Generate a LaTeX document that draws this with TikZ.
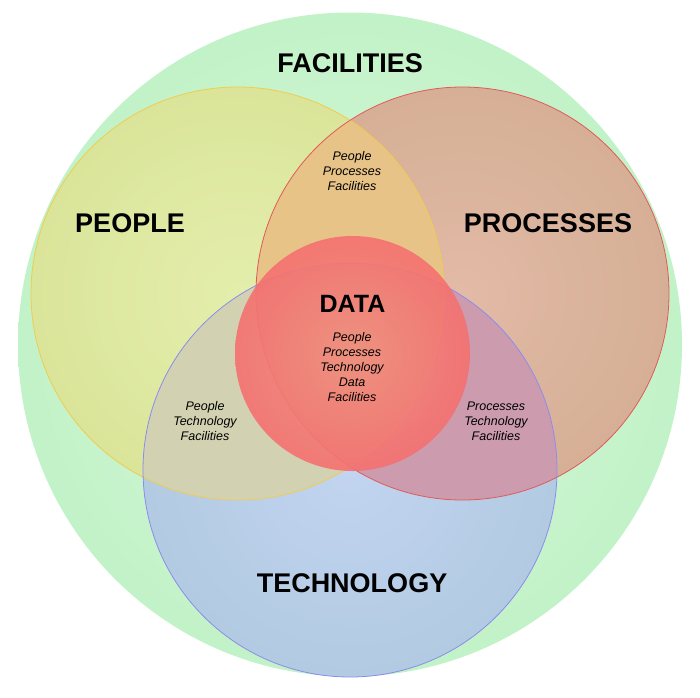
\documentclass[tikz,border=0pt]{standalone}
\usepackage{fontspec}
\setmainfont{Liberation Sans}
\definecolor{gIn}{HTML}{D8F9DC}
\definecolor{gOut}{HTML}{C2F2C7}
\definecolor{yIn}{HTML}{E4EEAC}
\definecolor{yOut}{HTML}{DAE59A}
\definecolor{rIn}{HTML}{E2BAA6}
\definecolor{rOut}{HTML}{D6AF96}
\definecolor{bIn}{HTML}{C2D4F0}
\definecolor{bOut}{HTML}{B2CAE2}
\definecolor{yrCol}{HTML}{E8C387}
\definecolor{ybCol}{HTML}{D2D2B2}
\definecolor{rbCol}{HTML}{CC9CAE}
\definecolor{yrbCol}{HTML}{D4A890}
\definecolor{yLine}{HTML}{F0CC50}
\definecolor{rLine}{HTML}{E05A5A}
\definecolor{bLine}{HTML}{8C8CEC}
\definecolor{dIn}{HTML}{F0907E}
\definecolor{dOut}{HTML}{F57070}
\tikzset{
  bigtitle/.style={font=\fontsize{27}{32}\selectfont\bfseries, text=black, inner sep=0pt},
  datatitle/.style={font=\fontsize{25}{30}\selectfont\bfseries, text=black, inner sep=0pt},
  smalllist/.style={font=\fontsize{12.5}{15}\selectfont\itshape, text=black, align=center, inner sep=0pt},
  ring/.style={line width=0.8pt}
}
\begin{document}
\begin{tikzpicture}[x=1pt,y=-1pt]
\useasboundingbox (0,0) rectangle (700,697);
\coordinate (G) at (350,344.5);
\coordinate (Y) at (237.5,293.5);
\coordinate (R) at (462.5,293.5);
\coordinate (B) at (350,470);
\coordinate (D) at (352.5,353.5);
% facilities
\shade[inner color=gIn, outer color=gOut] (G) circle[radius=332pt];
% single circles
\shade[inner color=yIn, outer color=yOut] (Y) circle[radius=206.5pt];
\shade[inner color=rIn, outer color=rOut] (R) circle[radius=206.5pt];
\shade[inner color=bIn, outer color=bOut] (B) circle[radius=207pt];
% pairwise overlaps
\begin{scope}
  \clip (Y) circle[radius=206.5pt];
  \fill[yrCol] (R) circle[radius=206.5pt];
  \fill[ybCol] (B) circle[radius=207pt];
\end{scope}
\begin{scope}
  \clip (R) circle[radius=206.5pt];
  \fill[rbCol] (B) circle[radius=207pt];
\end{scope}
\begin{scope}
  \clip (Y) circle[radius=206.5pt];
  \clip (R) circle[radius=206.5pt];
  \fill[yrbCol] (B) circle[radius=207pt];
\end{scope}
% outlines
\draw[ring, yLine] (Y) circle[radius=206.5pt];
\draw[ring, rLine] (R) circle[radius=206.5pt];
\draw[ring, bLine] (B) circle[radius=207pt];
% data
\shade[inner color=dIn, outer color=dOut, fill opacity=0.9] (D) circle[radius=117.5pt];
% labels
\node[bigtitle] (facilities) at (350,63) {FACILITIES};
\node[bigtitle] (people) at (130,223) {PEOPLE};
\node[bigtitle] (processes) at (548,223) {PROCESSES};
\node[bigtitle] (technology) at (352,583) {TECHNOLOGY};
\node[datatitle] (data) at (352.5,304) {DATA};
\node[smalllist] (ppf) at (352,171) {People\\Processes\\Facilities};
\node[smalllist] (all) at (352,367) {People\\Processes\\Technology\\Data\\Facilities};
\node[smalllist] (ptf) at (205,421) {People\\Technology\\Facilities};
\node[smalllist] (prtf) at (496,421) {Processes\\Technology\\Facilities};
\end{tikzpicture}
\end{document}
